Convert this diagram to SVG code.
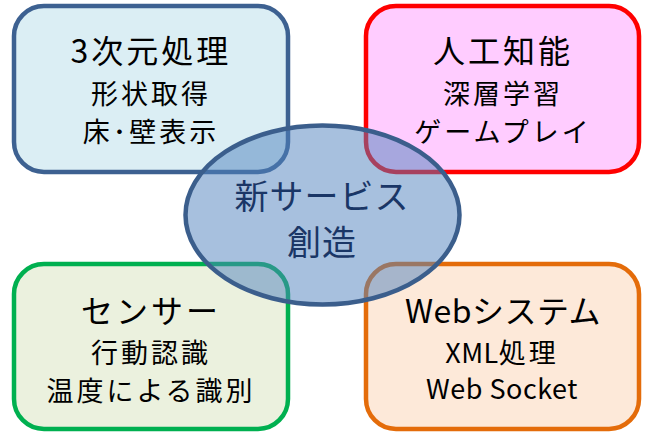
<svg xmlns="http://www.w3.org/2000/svg" width="648" height="432" viewBox="0 0 648 432">
<style>
.box{stroke-width:4.5}
text{font-family:"Noto Sans CJK JP","Noto Sans",sans-serif;text-anchor:middle;fill:#000}
.t{font-size:32px;letter-spacing:3px}
.s{font-size:27px;letter-spacing:3px}
.l{letter-spacing:0.5px}
.c{font-size:34px;letter-spacing:1px;fill:#1A3666}
</style>
<rect width="648" height="432" fill="#fff"/>
<g id="node-3d">
<rect class="box" x="14" y="6" width="274" height="166" rx="30" fill="#DBEEF4" stroke="#3D6191"/>
<text class="t" x="151" y="63">3次元処理</text>
<text class="s" x="151" y="104">形状取得</text>
<text class="s" x="151" y="142">床･壁表示</text>
</g>
<g id="node-ai">
<rect class="box" x="366" y="6" width="273" height="166" rx="30" fill="#FFCCFF" stroke="#FF0000"/>
<text class="t" x="503" y="63">人工知能</text>
<text class="s" x="503" y="104">深層学習</text>
<text class="s" x="503" y="142">ゲームプレイ</text>
</g>
<g id="node-sensor">
<rect class="box" x="14" y="264" width="274" height="165" rx="30" fill="#EBF1DE" stroke="#00B050"/>
<text class="t" x="151" y="323">センサー</text>
<text class="s" x="151" y="363">行動認識</text>
<text class="s" x="151" y="401">温度による識別</text>
</g>
<g id="node-web">
<rect class="box" x="366" y="264" width="273" height="165" rx="30" fill="#FDE9D9" stroke="#E46C0A"/>
<text class="t l" x="503" y="323">Webシステム</text>
<text class="s" x="502" y="363"><tspan style="letter-spacing:0.5px">XML</tspan>処理</text>
<text class="s l" x="502" y="399">Web Socket</text>
</g>
<g id="node-center">
<ellipse cx="322.5" cy="215" rx="137" ry="89.5" fill="#4F81BD" fill-opacity="0.5" stroke="#3B5E8C" stroke-width="4.5"/>
<text class="c" x="322" y="209">新サービス</text>
<text class="c" x="322" y="255">創造</text>
</g>
<g id="connectors"/>
</svg>
